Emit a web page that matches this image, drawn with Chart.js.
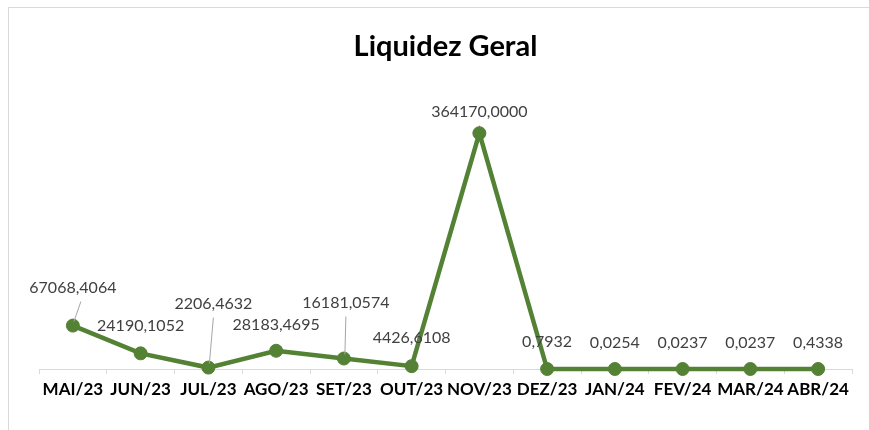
<!DOCTYPE html>
<html>
<head>
<meta charset="utf-8">
<script src="https://cdn.jsdelivr.net/npm/chart.js@4.4.0/dist/chart.umd.min.js"></script>
<style>
  html, body { margin: 0; padding: 0; background: #fff; }
  #wrap { width: 869px; height: 430px; }
</style>
</head>
<body>
<div id="wrap"><canvas id="chartLiquidez" width="869" height="430"></canvas></div>
<script>
// dados
const meses = ['MAI/23','JUN/23','JUL/23','AGO/23','SET/23','OUT/23','NOV/23','DEZ/23','JAN/24','FEV/24','MAR/24','ABR/24'];
const liquidezGeral = [67068.4064, 24190.1052, 2206.4632, 28183.4695, 16181.0574, 4426.6108, 364170.0000, 0.7932, 0.0254, 0.0237, 0.0237, 0.4338];

// deslocamento dos rótulos (dx, dy) e se tem linha guia
const labelOffsets = [[0,-38,true],[0,-27],[5,-64,true],[0,-26],[2,-56,true],[0,-28],[0,-21],[0,-27],[0,-26],[0,-26],[0,-26],[0,-26]];

const VERDE = '#548235';
const fmt = v => v.toFixed(4).replace('.', ',');

const labelsPlugin = {
  id: 'rotulos',
  beforeDraw(chart) {
    const c = chart.ctx;
    c.save();
    c.fillStyle = '#fff';
    c.fillRect(0, 0, chart.width, chart.height);
    c.strokeStyle = '#d9d9d9';
    c.lineWidth = 1;
    c.strokeRect(8.5, 7.5, 880, 450);
    // título
    c.fillStyle = '#000';
    c.font = 'bold 29px Lato';
    c.textAlign = 'center';
    c.textBaseline = 'middle';
    c.fillText('Liquidez Geral', (chart.chartArea.left + chart.chartArea.right) / 2, 47);
    c.restore();
  },
  afterDatasetsDraw(chart) {
    const c = chart.ctx;
    const meta = chart.getDatasetMeta(0);
    c.save();
    c.font = '16px Lato';
    c.textAlign = 'center';
    c.textBaseline = 'middle';
    meta.data.forEach((pt, i) => {
      const [dx, dy, guia] = labelOffsets[i];
      const lx = pt.x + dx, ly = pt.y + dy;
      if (guia) {
        c.strokeStyle = '#a6a6a6';
        c.lineWidth = 1;
        c.beginPath();
        c.moveTo(lx + (i === 0 ? 8 : 0), ly + 14);
        c.lineTo(pt.x + 1, pt.y - 4);
        c.stroke();
      }
      c.fillStyle = '#404040';
      c.fillText(fmt(liquidezGeral[i]), lx, ly);
    });
    c.restore();
  }
};

new Chart(document.getElementById('chartLiquidez').getContext('2d'), {
  type: 'line',
  data: {
    labels: meses,
    datasets: [{
      label: 'Liquidez Geral',
      data: liquidezGeral,
      borderColor: VERDE,
      backgroundColor: VERDE,
      borderWidth: 4.5,
      pointRadius: 6.5,
      pointHoverRadius: 6.5,
      pointBackgroundColor: VERDE,
      pointBorderColor: VERDE,
      pointBorderWidth: 1,
      tension: 0,
      clip: false
    }]
  },
  options: {
    responsive: false,
    animation: false,
    devicePixelRatio: 1,
    layout: { padding: { top: 110, left: 39, right: 17, bottom: 0 } },
    plugins: {
      legend: { display: false },
      title: { display: false },
      tooltip: { enabled: false }
    },
    scales: {
      x: {
        offset: true,
        afterFit: s => { s.height = 61; },
        grid: { offset: true, drawOnChartArea: false, drawTicks: true, tickLength: 5, color: '#d9d9d9' },
        border: { display: true, color: '#d9d9d9', width: 1 },
        ticks: { font: { family: 'Lato', size: 17, weight: 'bold' }, color: '#000', padding: 5, maxRotation: 0, autoSkip: false }
      },
      y: {
        display: false,
        min: 0,
        max: 400000
      }
    }
  },
  plugins: [labelsPlugin]
});
</script>
</body>
</html>
